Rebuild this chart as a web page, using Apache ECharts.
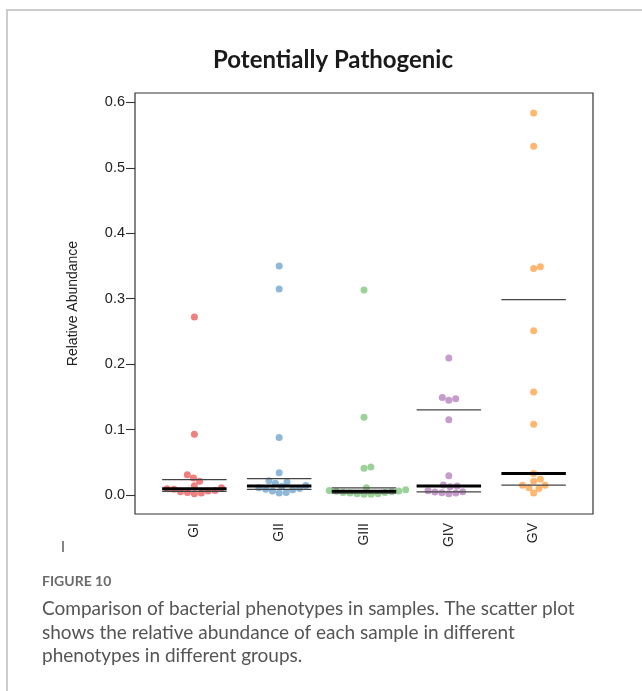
<!DOCTYPE html>
<html>
<head>
<meta charset="utf-8">
<script src="https://cdn.jsdelivr.net/npm/echarts@6/dist/echarts.min.js"></script>
<style>
  html, body { margin: 0; padding: 0; background: #fff; }
  #chart { width: 642px; height: 691px; }
</style>
</head>
<body>
<div id="chart"></div>
<script>
// Groups and relative abundance per sample
const groups = ['GI', 'GII', 'GIII', 'GIV', 'GV'];
const abundanceGI   = [0.272, 0.093, 0.031, 0.026, 0.021, 0.014, 0.011, 0.0097, 0.009, 0.007, 0.006, 0.005, 0.004, 0.003, 0.002];
const abundanceGII  = [0.350, 0.315, 0.088, 0.034, 0.022, 0.020, 0.018, 0.0146, 0.013, 0.011, 0.010, 0.009, 0.008, 0.006, 0.004, 0.003];
const abundanceGIII = [0.3135, 0.119, 0.043, 0.041, 0.011, 0.008, 0.007, 0.006, 0.0056, 0.005, 0.004, 0.004, 0.003, 0.002, 0.002, 0.001, 0.001];
const abundanceGIV  = [0.2095, 0.149, 0.147, 0.145, 0.115, 0.0295, 0.0155, 0.0138, 0.0125, 0.0065, 0.005, 0.0045, 0.0035, 0.003, 0.002];
const abundanceGV   = [0.584, 0.533, 0.349, 0.346, 0.251, 0.1575, 0.108, 0.033, 0.024, 0.021, 0.015, 0.015, 0.011, 0.010, 0.003];
const yTicks = [0, 0.1, 0.2, 0.3, 0.4, 0.5, 0.6];

const allGroups = [abundanceGI, abundanceGII, abundanceGIII, abundanceGIV, abundanceGV];
const groupColors = ['rgba(228,26,28,0.7)', 'rgba(55,126,184,0.7)', 'rgba(77,175,74,0.7)',
                     'rgba(152,78,163,0.7)', 'rgba(255,127,0,0.7)'];

const SANS = '"Liberation Sans", Arial, sans-serif';
const HALF_WIDTH = 0.38;   // half length of the quartile bars, in category units
const POINT_GAP = 7;       // swarm spacing between point centres, px

// R-style (type 7) quantile
function quantile(vals, p) {
  const s = vals.slice().sort((a, b) => a - b);
  const h = (s.length - 1) * p;
  const lo = Math.floor(h);
  const hi = Math.min(lo + 1, s.length - 1);
  return s[lo] + (h - lo) * (s[hi] - s[lo]);
}

// Beeswarm layout: points placed in ascending order at the free offset closest to the centre
function swarmOffsets(vals, toPx, d) {
  const order = vals.map((v, i) => i).sort((a, b) => vals[a] - vals[b] || a - b);
  const placed = [];
  const out = new Array(vals.length);
  for (const i of order) {
    const y = toPx(vals[i]);
    const near = placed.filter(p => Math.abs(p.y - y) < d);
    const cands = [0];
    near.forEach(p => cands.push(p.x + Math.sqrt(d * d - (p.y - y) ** 2)));
    near.forEach(p => cands.push(p.x - Math.sqrt(d * d - (p.y - y) ** 2)));
    let best = Infinity;
    for (const c of cands) {
      const free = near.every(p => (p.x - c) ** 2 + (p.y - y) ** 2 >= d * d - 1e-6);
      if (free && Math.abs(c) < Math.abs(best)) best = c;
    }
    placed.push({ x: best, y: y });
    out[i] = best;
  }
  return out;
}

const chart = echarts.init(document.getElementById('chart'), null, { renderer: 'canvas' });

const baseOption = {
  animation: false,
  backgroundColor: '#fff',
  grid: {
    left: 135, top: 93, width: 458, height: 421,
    show: true, borderColor: '#333', borderWidth: 1.2, backgroundColor: 'transparent'
  },
  xAxis: {
    type: 'value', min: 0.3, max: 5.7,
    axisLine: { show: false }, splitLine: { show: false }, axisTick: { show: false },
    axisLabel: {
      customValues: [1, 2, 3, 4, 5],
      formatter: v => groups[Math.round(v) - 1],
      rotate: 90, margin: 9, fontSize: 14, color: '#222', fontFamily: SANS
    }
  },
  yAxis: {
    type: 'value', min: -0.029, max: 0.6144,
    name: 'Relative Abundance', nameLocation: 'middle', nameGap: 55,
    nameTextStyle: { fontSize: 14, color: '#222', fontFamily: SANS },
    axisLine: { show: false }, splitLine: { show: false },
    axisTick: { show: true, customValues: yTicks, length: 9, lineStyle: { color: '#333', width: 1.1 } },
    axisLabel: {
      customValues: yTicks, formatter: v => v.toFixed(1),
      margin: 10, fontSize: 14.5, color: '#222', fontFamily: SANS
    }
  },
  graphic: [
    { type: 'polyline', silent: true, shape: { points: [[7, 691], [7, 10], [642, 10]] },
      style: { stroke: '#bdbdbd', lineWidth: 1.5, fill: null } },
    { type: 'text', x: 333, y: 60, silent: true,
      style: { text: 'Potentially Pathogenic', textAlign: 'center', textVerticalAlign: 'middle',
               font: 'bold 24px Lato, "Open Sans", sans-serif', fill: '#1a1a1a' } },
    { type: 'line', silent: true, shape: { x1: 63, y1: 541, x2: 63, y2: 552 },
      style: { stroke: '#333', lineWidth: 1.2 } },
    { type: 'text', x: 42, y: 581, silent: true,
      style: { text: 'FIGURE 10', textVerticalAlign: 'middle',
               font: 'bold 14px Lato, sans-serif', fill: '#6b6b6b' } },
    { type: 'text', x: 42, y: 609, silent: true,
      style: { text: 'Comparison of bacterial phenotypes in samples. The scatter plot',
               textVerticalAlign: 'middle', font: '19px Lato, sans-serif', fill: '#555' } },
    { type: 'text', x: 42, y: 633, silent: true,
      style: { text: 'shows the relative abundance of each sample in different',
               textVerticalAlign: 'middle', font: '19px Lato, sans-serif', fill: '#555' } },
    { type: 'text', x: 42, y: 656, silent: true,
      style: { text: 'phenotypes in different groups.',
               textVerticalAlign: 'middle', font: '19px Lato, sans-serif', fill: '#555' } }
  ],
  series: []
};

chart.setOption(baseOption);

// Pixel scales of the grid, used by the swarm layout
const yToPx = v => chart.convertToPixel({ yAxisIndex: 0 }, v);
const xUnitPerPx = 1 / (chart.convertToPixel({ xAxisIndex: 0 }, 2) - chart.convertToPixel({ xAxisIndex: 0 }, 1));

const scatterSeries = allGroups.map((vals, gi) => {
  const offs = swarmOffsets(vals, yToPx, POINT_GAP);
  return {
    type: 'scatter',
    name: groups[gi],
    symbol: 'circle',
    symbolSize: 7,
    itemStyle: { color: groupColors[gi] },
    z: 2,
    silent: true,
    data: vals.map((v, k) => [gi + 1 + offs[k] * xUnitPerPx, v])
  };
});

const quartileRows = allGroups.map((vals, gi) => [
  gi + 1, quantile(vals, 0.25), quantile(vals, 0.5), quantile(vals, 0.75)
]);

const quartileSeries = {
  type: 'custom',
  z: 5,
  silent: true,
  encode: { x: 0, y: [1, 2, 3] },
  data: quartileRows,
  renderItem: (params, api) => {
    const x = api.value(0);
    const specs = [[1, 1.2, '#444'], [3, 1.2, '#444'], [2, 3, '#000']];
    const children = specs.map(([dim, w, c]) => {
      const v = api.value(dim);
      const a = api.coord([x - HALF_WIDTH, v]);
      const b = api.coord([x + HALF_WIDTH, v]);
      return { type: 'line', shape: { x1: a[0], y1: a[1], x2: b[0], y2: b[1] },
               style: { stroke: c, lineWidth: w } };
    });
    return { type: 'group', children: children };
  }
};

chart.setOption({ series: scatterSeries.concat([quartileSeries]) });
</script>
</body>
</html>
